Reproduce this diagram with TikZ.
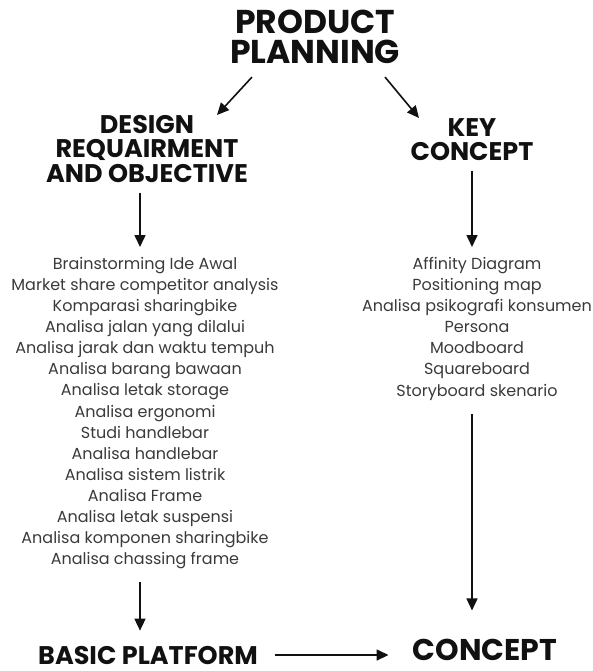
\documentclass[tikz,border=0pt]{standalone}
\usepackage{fontspec}
\setmainfont{Poppins}
\usetikzlibrary{arrows.meta,positioning}
\definecolor{inkc}{HTML}{111111}
\definecolor{listc}{HTML}{3A3A3A}
\tikzset{
  ar/.style={-{Triangle[length=12pt,width=11pt]},line width=1.6pt,inkc},
  ttl/.style={font=\bfseries\fontsize{33}{30}\selectfont,align=center,inner sep=0pt,text=inkc},
  head/.style={font=\bfseries\fontsize{25.5}{24.5}\selectfont,align=center,inner sep=0pt,text=inkc},
  big/.style={font=\bfseries\fontsize{30}{30}\selectfont,inner sep=0pt,text=inkc},
  lst/.style={font=\fontsize{16}{21.1}\selectfont,align=center,inner sep=0pt,text=listc}
}
\begin{document}
\begin{tikzpicture}[x=1pt,y=-1pt]
\useasboundingbox (0,0) rectangle (593,671);
\node[ttl,anchor=north] (plan) at (315,10) {PRODUCT\\PLANNING};
\node[head,anchor=north] (design) at (147,115) {DESIGN\\REQUAIRMENT\\AND OBJECTIVE};
\node[head,anchor=north] (key) at (472,118) {KEY\\CONCEPT};
% lists of methods
\node[lst,anchor=north] (leftlist) at (145,257) {Brainstorming Ide Awal\\Market share competitor analysis\\Komparasi sharingbike\\Analisa jalan yang dilalui\\Analisa jarak dan waktu tempuh\\Analisa barang bawaan\\Analisa letak storage\\Analisa ergonomi\\Studi handlebar\\Analisa handlebar\\Analisa sistem listrik\\Analisa Frame\\Analisa letak suspensi\\Analisa komponen sharingbike\\Analisa chassing frame};
\node[lst,anchor=north] (rightlist) at (477,257) {Affinity Diagram\\Positioning map\\Analisa psikografi konsumen\\Persona\\Moodboard\\Squareboard\\Storyboard skenario};
\node[head,anchor=base] (basic) at (148,664) {BASIC PLATFORM};
\node[big,anchor=base] (concept) at (485,660) {CONCEPT};
% arrows
\draw[ar] ([shift={(-63,13)}]plan.south) -- ([xshift=70]design.north);
\draw[ar] ([shift={(70,13)}]plan.south) -- ([xshift=-53]key.north);
\draw[ar,shorten <=10pt,shorten >=10pt] ([xshift=-7]design.south) -- ([xshift=-7]design.south |- leftlist.north);
\draw[ar,shorten <=13pt,shorten >=15pt] ([xshift=-7]design.south |- leftlist.south) -- ([xshift=-7]design.south |- basic.north);
\draw[ar,shorten <=17pt,shorten >=24pt] (basic.east) -- (basic.east -| concept.west);
\draw[ar,shorten <=10pt,shorten >=10pt] (key.south) -- (key.south |- rightlist.north);
\draw[ar,shorten <=14pt,shorten >=28pt] (rightlist.south -| key.south) -- (key.south |- concept.north);
\end{tikzpicture}
\end{document}
